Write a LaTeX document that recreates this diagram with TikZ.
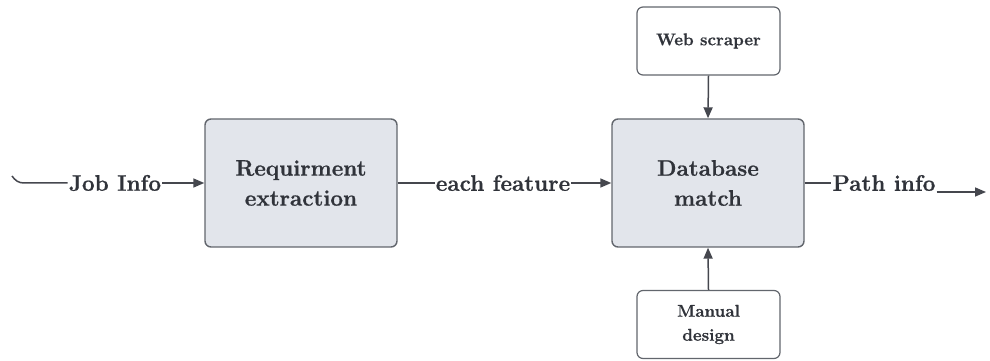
\documentclass[tikz,border=0pt]{standalone}
\usepackage{fontspec}
\setmainfont{Latin Modern Roman}[BoldFeatures={FakeBold=0.8}]
\usepackage{tikz}
\usepackage{xcolor}
\usetikzlibrary{arrows.meta}

\definecolor{boxfill}{HTML}{E2E5EB}
\definecolor{boxline}{HTML}{62666D}
\definecolor{inkgray}{HTML}{30333A}

\tikzset{
  bigbox/.style={draw=boxline,line width=1.4pt,fill=boxfill,rounded corners=6pt,
    minimum width=192pt,minimum height=128pt,align=center,text=inkgray,
    font=\fontsize{22.5}{30}\selectfont\bfseries},
  smallbox/.style={draw=boxline,line width=1.2pt,fill=white,rounded corners=6pt,
    minimum width=143pt,minimum height=68pt,align=center,text=inkgray,
    font=\fontsize{17}{24}\selectfont\bfseries},
  lbl/.style={inner sep=1pt,text=inkgray,font=\fontsize{22.5}{27}\selectfont\bfseries},
  flow/.style={draw=inkgray!90,line width=1.5pt},
  tip/.style={-{Triangle[length=11pt,width=9pt]}}
}

\begin{document}
\begin{tikzpicture}[x=1pt,y=1pt]
        \useasboundingbox (0,0) rectangle (990,361);
        % boxes
        \node [bigbox] (req) at (301,178) {Requirment\\extraction};
        \node [bigbox] (db) at (708,178) {Database\\match};
        \node [smallbox] (web) at (708.5,320) {Web scraper};
        \node [smallbox] (man) at (708.5,36.5) {Manual\\design};
        % labels
        \node [lbl] (job) at (115,178) {Job Info};
        \node [lbl] (feat) at (503,178) {each feature};
        \node [lbl] (path) at (884,178) {Path info};
        \coordinate (start) at (12,185);
        \coordinate (bend) at (24,178);
        \coordinate (out) at (986,169);
        % connectors
        \draw [flow] (start) to[out=-55,in=180] (bend) -- (job.west);
        \draw [flow,tip] (job.east) -- (req.west);
        \draw [flow] (req.east) -- (feat.west);
        \draw [flow,tip] (feat.east) -- (db.west);
        \draw [flow] (db.east) -- (path.west);
        \draw [flow,tip] (path.east |- out) -- (out);
        \draw [flow,tip] (web.south) -- (db.north);
        \draw [flow,tip] (man.north) -- (db.south);
    \end{tikzpicture}
\end{document}
